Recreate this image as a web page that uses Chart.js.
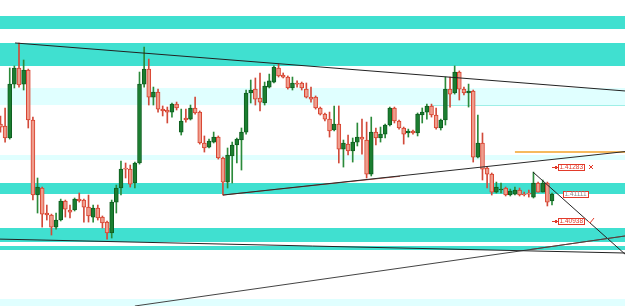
<!DOCTYPE html>
<html>
<head>
<meta charset="utf-8">
<script src="https://cdn.jsdelivr.net/npm/chart.js@4.4.1/dist/chart.umd.min.js"></script>
<style>
  html, body { margin: 0; padding: 0; background: #fff; }
  canvas { display: block; }
</style>
</head>
<body>
<canvas id="priceChart" width="625" height="306"></canvas>
<script>
// candles (oldest first)
const opens = [
  1.41556, 1.41544, 1.41467, 1.41812, 1.41915, 1.41812, 1.41902, 1.41582, 1.41102, 1.41147,
  1.40987, 1.40974, 1.40897, 1.40942, 1.41064, 1.41006, 1.41006, 1.41076, 1.41070, 1.41025,
  1.40961, 1.41019, 1.40961, 1.40929, 1.40859, 1.41057, 1.41147, 1.41275, 1.41268, 1.41179,
  1.41307, 1.41812, 1.41908, 1.41729, 1.41761, 1.41652, 1.41646, 1.41633, 1.41684, 1.41505,
  1.41595, 1.41588, 1.41659, 1.41633, 1.41435, 1.41409, 1.41441, 1.41473, 1.41339, 1.41185,
  1.41352, 1.41422, 1.41454, 1.41505, 1.41755, 1.41780, 1.41723, 1.41691, 1.41793, 1.41825,
  1.41915, 1.41870, 1.41857, 1.41787, 1.41819, 1.41819, 1.41780, 1.41729, 1.41729, 1.41659,
  1.41620, 1.41588, 1.41518, 1.41556, 1.41396, 1.41428, 1.41384, 1.41441, 1.41473, 1.41454,
  1.41236, 1.41505, 1.41467, 1.41492, 1.41550, 1.41659, 1.41576, 1.41531, 1.41499, 1.41512,
  1.41499, 1.41614, 1.41633, 1.41672, 1.41614, 1.41531, 1.41582, 1.41780, 1.41755, 1.41889,
  1.41780, 1.41755, 1.41768, 1.41345, 1.41435, 1.41275, 1.41236, 1.41121, 1.41134, 1.41147,
  1.41102, 1.41108, 1.41134, 1.41108, 1.41115, 1.41089, 1.41179, 1.41121, 1.41179, 1.41064
];
const highs = [
  1.41608, 1.41659, 1.41915, 1.41928, 1.42075, 1.41966, 1.41908, 1.41601, 1.41211, 1.41153,
  1.41038, 1.40980, 1.40987, 1.41076, 1.41070, 1.41038, 1.41083, 1.41115, 1.41076, 1.41102,
  1.41038, 1.41038, 1.40968, 1.40936, 1.41070, 1.41166, 1.41320, 1.41307, 1.41294, 1.41313,
  1.41889, 1.42049, 1.41972, 1.41793, 1.41780, 1.41672, 1.41665, 1.41691, 1.41697, 1.41652,
  1.41652, 1.41678, 1.41729, 1.41640, 1.41480, 1.41460, 1.41505, 1.41480, 1.41345, 1.41403,
  1.41441, 1.41467, 1.41531, 1.41774, 1.41838, 1.41851, 1.41883, 1.41825, 1.41876, 1.41928,
  1.41940, 1.41883, 1.41864, 1.41857, 1.41832, 1.41825, 1.41819, 1.41793, 1.41736, 1.41665,
  1.41627, 1.41633, 1.41672, 1.41672, 1.41454, 1.41486, 1.41467, 1.41563, 1.41588, 1.41569,
  1.41601, 1.41531, 1.41537, 1.41556, 1.41665, 1.41665, 1.41582, 1.41537, 1.41524, 1.41518,
  1.41627, 1.41659, 1.41684, 1.41684, 1.41659, 1.41588, 1.41857, 1.41857, 1.41928, 1.41896,
  1.41793, 1.41812, 1.41774, 1.41614, 1.41499, 1.41281, 1.41243, 1.41185, 1.41179, 1.41153,
  1.41140, 1.41153, 1.41147, 1.41121, 1.41134, 1.41249, 1.41185, 1.41198, 1.41185, 1.41115
];
const lows = [
  1.41505, 1.41441, 1.41460, 1.41787, 1.41793, 1.41774, 1.41531, 1.41070, 1.40987, 1.40897,
  1.40942, 1.40846, 1.40884, 1.40936, 1.40961, 1.40955, 1.41000, 1.41057, 1.40929, 1.40929,
  1.40929, 1.40942, 1.40891, 1.40820, 1.40827, 1.40987, 1.41102, 1.41211, 1.41153, 1.41147,
  1.41300, 1.41793, 1.41678, 1.41678, 1.41633, 1.41608, 1.41563, 1.41601, 1.41646, 1.41486,
  1.41569, 1.41582, 1.41620, 1.41428, 1.41377, 1.41403, 1.41435, 1.41332, 1.41102, 1.41147,
  1.41179, 1.41307, 1.41262, 1.41492, 1.41691, 1.41678, 1.41640, 1.41678, 1.41787, 1.41819,
  1.41857, 1.41851, 1.41780, 1.41774, 1.41793, 1.41774, 1.41723, 1.41697, 1.41652, 1.41614,
  1.41576, 1.41473, 1.41512, 1.41307, 1.41281, 1.41358, 1.41313, 1.41416, 1.41364, 1.41211,
  1.41224, 1.41422, 1.41441, 1.41467, 1.41544, 1.41563, 1.41524, 1.41428, 1.41473, 1.41492,
  1.41480, 1.41563, 1.41588, 1.41601, 1.41524, 1.41518, 1.41550, 1.41665, 1.41748, 1.41710,
  1.41742, 1.41665, 1.41313, 1.41339, 1.41198, 1.41147, 1.41102, 1.41115, 1.41115, 1.41096,
  1.41096, 1.41102, 1.41096, 1.41096, 1.41089, 1.41083, 1.41121, 1.41121, 1.41032, 1.41038
];
const closes = [
  1.41537, 1.41467, 1.41812, 1.41915, 1.41806, 1.41902, 1.41582, 1.41102, 1.41153, 1.40980,
  1.40974, 1.40897, 1.40942, 1.41064, 1.41012, 1.40993, 1.41076, 1.41064, 1.41025, 1.40968,
  1.41019, 1.40955, 1.40923, 1.40859, 1.41057, 1.41147, 1.41268, 1.41268, 1.41172, 1.41307,
  1.41812, 1.41908, 1.41729, 1.41761, 1.41652, 1.41640, 1.41633, 1.41684, 1.41659, 1.41576,
  1.41582, 1.41659, 1.41627, 1.41435, 1.41403, 1.41448, 1.41473, 1.41339, 1.41185, 1.41358,
  1.41422, 1.41460, 1.41505, 1.41755, 1.41774, 1.41716, 1.41697, 1.41800, 1.41832, 1.41921,
  1.41864, 1.41857, 1.41787, 1.41819, 1.41812, 1.41787, 1.41729, 1.41716, 1.41659, 1.41620,
  1.41588, 1.41512, 1.41556, 1.41396, 1.41435, 1.41384, 1.41441, 1.41473, 1.41460, 1.41236,
  1.41505, 1.41467, 1.41492, 1.41550, 1.41659, 1.41576, 1.41531, 1.41492, 1.41512, 1.41499,
  1.41620, 1.41633, 1.41672, 1.41614, 1.41531, 1.41582, 1.41780, 1.41748, 1.41889, 1.41780,
  1.41755, 1.41768, 1.41345, 1.41435, 1.41268, 1.41236, 1.41121, 1.41153, 1.41140, 1.41102,
  1.41128, 1.41134, 1.41102, 1.41102, 1.41108, 1.41179, 1.41121, 1.41179, 1.41057, 1.41108
];

// supply / demand zones
const zoneHigh = [1.42248, 1.42075, 1.41787, 1.41358, 1.41179, 1.40891, 1.40776, 1.40436, 1.41704];
const zoneLow  = [1.42164, 1.41928, 1.41678, 1.41326, 1.41108, 1.40801, 1.40750, 1.40380, 1.41675];
const zoneStrong = [true, true, false, false, true, true, true, false, true];
const zoneFromBar = [null, null, null, null, null, null, null, null, 93.1];

// trendlines as [bar index, price] pairs
const trendFrom = [[3.15, 1.42075], [48.0, 1.41102], [48.0, 1.41102], [-0.1, 1.40820],
                   [29.0, 1.40392], [114.3, 1.40753], [114.9, 1.41249], [111.0, 1.41377]];
const trendTo   = [[134.75, 1.41768], [134.75, 1.41380], [86.2, 1.41222], [134.75, 1.40731],
                   [134.75, 1.40840], [134.75, 1.40840], [134.75, 1.40724], [134.75, 1.41377]];

// price tags at the right
const tagPrices = [1.41283, 1.41111, 1.40938];

const X_MIN = -0.1, X_MAX = 134.75;
const Y_MIN = 1.40392, Y_MAX = 1.42350;

const trendColors = ['#222', '#2a2a2a', '#b8483c', '#222', '#444', '#a0483c', '#222', '#f2a329'];
const trendWidths = [1, 1, 1, 1, 1, 1, 1, 1.6];

const up = opens.map((o, i) => closes[i] >= o);

function zoneDatasets() {
  return zoneHigh.map((hi, k) => ({
    type: 'line',
    data: [{ x: zoneFromBar[k] === null ? X_MIN : zoneFromBar[k], y: hi }, { x: X_MAX, y: hi }],
    fill: { value: zoneLow[k] },
    backgroundColor: zoneStrong[k] ? '#40e0d0' : '#e0ffff',
    borderWidth: 0,
    pointRadius: 0,
    order: 10
  }));
}

function trendDatasets() {
  return trendFrom.map((p, k) => ({
    type: 'line',
    data: [{ x: p[0], y: p[1] }, { x: trendTo[k][0], y: trendTo[k][1] }],
    borderColor: trendColors[k],
    borderWidth: trendWidths[k],
    pointRadius: 0,
    fill: false,
    order: 0
  }));
}

const tagPlugin = {
  id: 'priceTags',
  afterDatasetsDraw(chart) {
    const { ctx, scales: { x, y } } = chart;
    const tagLeft = [120.3, 121.4, 120.3];
    ctx.save();
    ctx.font = '6.5px "Liberation Sans", Arial, sans-serif';
    ctx.textBaseline = 'middle';
    tagPrices.forEach((p, k) => {
      const py = Math.round(y.getPixelForValue(p));
      const left = Math.round(x.getPixelForValue(tagLeft[k]));
      const text = p.toFixed(5);
      const w = Math.ceil(ctx.measureText(text).width) + 3;
      ctx.fillStyle = '#fff';
      ctx.fillRect(left, py - 3, w, 7);
      ctx.strokeStyle = '#e23a2a';
      ctx.lineWidth = 1;
      ctx.strokeRect(left + 0.5, py - 2.5, w - 1, 6);
      ctx.fillStyle = k === 1 ? '#8a8a8a' : '#e23a2a';
      ctx.fillText(text, left + 1.5, py + 0.5);
      if (k !== 1) {
        // little arrow stem on the left and the close mark on the right
        const stem = x.getPixelForValue(119.0);
        ctx.beginPath();
        ctx.moveTo(stem, py + 0.5);
        ctx.lineTo(left, py + 0.5);
        ctx.stroke();
        ctx.fillStyle = '#e23a2a';
        ctx.fillRect(left - 3, py - 1, 2, 3);
        const mx = left + w + 6;
        ctx.beginPath();
        if (k === 0) {
          ctx.moveTo(mx - 2, py - 2); ctx.lineTo(mx + 2, py + 2);
          ctx.moveTo(mx + 2, py - 2); ctx.lineTo(mx - 2, py + 2);
        } else {
          ctx.moveTo(mx - 3, py); ctx.lineTo(mx - 1, py + 2); ctx.lineTo(mx + 3, py - 3);
        }
        ctx.stroke();
      }
    });
    ctx.restore();
  }
};

const chart = new Chart(document.getElementById('priceChart'), {
  type: 'bar',
  data: {
    datasets: [
      {
        label: 'wicks',
        data: lows.map((l, i) => ({ x: i, y: [l, highs[i]] })),
        backgroundColor: up.map(u => u ? '#2b8a3a' : '#d24a3a'),
        barThickness: 1,
        grouped: false,
        order: 2
      },
      {
        label: 'bodies',
        data: opens.map((o, i) => ({ x: i, y: [o, closes[i]] })),
        backgroundColor: up.map(u => u ? '#1b7e30' : '#ef9d8d'),
        borderColor: up.map(u => u ? '#0f5e20' : '#d8402d'),
        borderWidth: 1,
        borderSkipped: false,
        barThickness: 4,
        minBarLength: 1,
        grouped: false,
        order: 1
      },
      ...zoneDatasets(),
      ...trendDatasets()
    ]
  },
  options: {
    responsive: false,
    animation: false,
    devicePixelRatio: 1,
    layout: { padding: 0 },
    scales: {
      x: { type: 'linear', min: X_MIN, max: X_MAX, offset: false, display: false },
      y: { type: 'linear', min: Y_MIN, max: Y_MAX, display: false }
    },
    plugins: {
      legend: { display: false },
      tooltip: { enabled: false },
      filler: { drawTime: 'beforeDatasetsDraw' }
    }
  },
  plugins: [tagPlugin]
});
</script>
</body>
</html>
